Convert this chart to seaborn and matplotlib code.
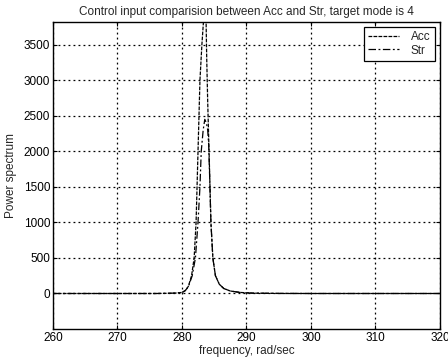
import matplotlib
matplotlib.use("Agg")
import matplotlib.pyplot as plt
import seaborn as sns
import pandas as pd

# Data
acc_freq = [260, 270, 276, 278, 279, 280, 280.5, 281, 281.5, 281.9, 282.2, 282.35, 282.5, 282.65,
            282.8, 283.1, 283.4, 283.7, 283.85, 284.0, 284.15, 284.3, 284.5, 284.8, 285.2,
            285.8, 286.5, 287.5, 289, 291, 295, 300, 320]
acc_vals = [0, 0, 0, 3, 6, 15, 40, 100, 250, 500, 1000, 1500, 2000, 2500,
            3000, 3500, 3900, 4100, 3300, 2700, 2200, 1700, 1000, 500, 250,
            130, 70, 35, 15, 5, 1, 0, 0]

str_freq = [260, 270, 276, 278, 279, 280, 280.5, 281, 281.6, 282.1, 282.5, 282.8, 283.0,
            283.3, 283.55, 283.8, 284.0, 284.15, 284.3, 284.5, 284.8, 285.2, 285.8,
            286.5, 287.5, 289, 291, 295, 300, 320]
str_vals = [0, 0, 0, 3, 6, 14, 38, 95, 250, 500, 1000, 1500, 2000,
            2300, 2450, 2400, 2300, 2100, 1650, 1000, 500, 250, 130,
            70, 35, 15, 5, 1, 0, 0]

x_ticks = [260, 270, 280, 290, 300, 310, 320]
y_ticks = [0, 500, 1000, 1500, 2000, 2500, 3000, 3500]

sns.set_style("white")
plt.rcParams['font.family'] = ['Liberation Sans', 'DejaVu Sans']
plt.rcParams['xtick.direction'] = 'in'
plt.rcParams['ytick.direction'] = 'in'

df_acc = pd.DataFrame({"frequency": acc_freq, "power": acc_vals})
df_str = pd.DataFrame({"frequency": str_freq, "power": str_vals})

fs = 8.5

fig = plt.figure(figsize=(4.48, 3.6), dpi=100)
ax = fig.add_axes([0.118, 0.086, 0.864, 0.853])

sns.lineplot(data=df_acc, x="frequency", y="power", ax=ax, color="black",
             linewidth=0.9, label="Acc", estimator=None, sort=False)
sns.lineplot(data=df_str, x="frequency", y="power", ax=ax, color="black",
             linewidth=0.9, label="Str", estimator=None, sort=False)
ax.lines[0].set_linestyle((0, (3, 1)))
ax.lines[1].set_linestyle((0, (6, 2, 1.5, 2)))

ax.set_xlim(260, 320)
ax.set_ylim(-500, 3820)
ax.set_xticks(x_ticks)
ax.set_yticks(y_ticks)
ax.tick_params(labelsize=fs, length=3, width=0.8, colors='black', top=True, right=True,
               bottom=True, left=True, pad=2)
ax.grid(True, color='black', linestyle=(0, (1.5, 2.5)), linewidth=0.9)
for s in ax.spines.values():
    s.set_color('black')
    s.set_linewidth(1.0)

ax.set_xlabel("frequency, rad/sec", fontsize=fs, labelpad=1)
ax.set_ylabel("Power spectrum", fontsize=fs, labelpad=5)
ax.set_title("Control input comparision between Acc and Str, target mode is 4", fontsize=fs, pad=5)

leg = ax.legend(loc='upper right', fontsize=fs, frameon=True, fancybox=False,
                edgecolor='black', framealpha=1, handlelength=2.6, borderpad=0.35,
                labelspacing=0.1, borderaxespad=0.45, handletextpad=1.0)
leg.get_frame().set_linewidth(0.9)

fig.savefig("out.png", dpi=100)
